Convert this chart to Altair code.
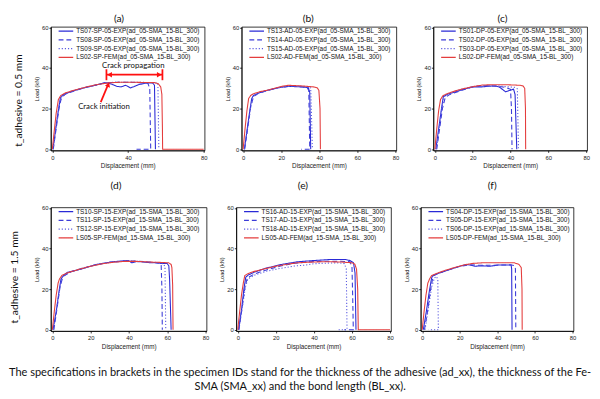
import altair as alt
import pandas as pd

# ---------------- data ----------------
X_TICKS = [0, 20, 40, 60, 80]
Y_TICKS = [0, 20, 40, 60]

# panel (a)
A_NAMES = ["TS07-SP-05-EXP(ad_05-SMA_15-BL_300)", "TS08-SP-05-EXP(ad_05-SMA_15-BL_300)",
           "TS09-SP-05-EXP(ad_05-SMA_15-BL_300)", "LS02-SP-FEM(ad_05-SMA_15-BL_300)"]
A1_D = [0.3, 1.5, 3, 4.2, 5.5, 7.6, 11, 14.3, 19.4, 22.8, 27.8, 30, 32, 34, 36.3, 38.8, 41.3, 43, 45.5, 48, 49.7, 53.1, 54, 54.5]
A1_L = [0, 8, 18, 25.2, 26.8, 27.6, 28.8, 29.6, 30.8, 31.5, 32.8, 32.5, 31.8, 31.0, 30.7, 31.5, 30.2, 30.8, 31.8, 32.3, 32.6, 32.6, 31.5, 0]
A2_D = [0.5, 2, 3.5, 4.8, 7, 12, 18, 24, 28, 34, 40, 46, 50.5, 51.5, 52, 44.5]
A2_L = [0, 10, 20, 25.5, 27.2, 28.8, 30.6, 31.8, 32.7, 33, 33, 32.8, 32.5, 30, 0, 0]
A3_D = [0.4, 2, 3.7, 5, 8, 14, 20, 27, 33, 40, 47, 53, 55.8, 56.3]
A3_L = [0, 12, 22, 26, 27.6, 29.7, 31, 32.5, 33, 33, 33, 32.8, 32.5, 0]
A4_D = [0, 1, 2, 3.2, 4.5, 7, 12, 18, 24, 30, 36, 42, 48, 54, 56, 57.3, 57.9, 58.2, 58.3, 80]
A4_L = [0, 9, 17.5, 24.5, 26.5, 27.8, 29.2, 30.7, 31.9, 32.7, 33, 33, 32.9, 32.8, 32.3, 30.7, 27, 10, 0, 0]

# panel (b)
B_NAMES = ["TS13-AD-05-EXP(ad_05-SMA_15-BL_300)", "TS14-AD-05-EXP(ad_05-SMA_15-BL_300)",
           "TS15-AD-05-EXP(ad_05-SMA_15-BL_300)", "LS02-AD-FEM(ad_05-SMA_15-BL_300)"]
B1_D = [0.7, 2, 3.5, 4.5, 5.4, 8, 12, 18.8, 23.8, 30.5, 34.2, 35, 35.5]
B1_L = [0, 9, 19, 24.9, 26.5, 27.6, 28.8, 30.4, 31.0, 30.7, 30.4, 28, 0]
B2_D = [0.8, 2.5, 4, 5.5, 8, 13, 19, 25, 30, 33.5, 34.5, 35, 30.5]
B2_L = [0, 11, 21, 26, 27.5, 29, 30.4, 31, 30.8, 30.5, 29, 0, 0]
B3_D = [0.6, 2.3, 4, 5.2, 9, 15, 22, 28, 33, 35.5, 36.4]
B3_L = [0, 10, 21, 26, 28, 29.6, 30.8, 31.2, 30.8, 30.2, 0]
B4_D = [0, 1, 2, 2.9, 4, 5.4, 9, 13.8, 20.5, 23.8, 30.5, 37.2, 39, 39.8, 40.4, 40.6]
B4_L = [0, 10, 19, 25, 26.5, 27.3, 28.4, 29.3, 31.0, 31.5, 31.2, 30.7, 30.2, 29.0, 20, 0]

# panel (c)
C_NAMES = ["TS01-DP-05-EXP(ad_05-SMA_15-BL_300)", "TS02-DP-05-EXP(ad_05-SMA_15-BL_300)",
           "TS03-DP-05-EXP(ad_05-SMA_15-BL_300)", "LS02-DP-FEM(ad_05-SMA_15-BL_300)"]
C1_D = [0.5, 2, 3.5, 4.5, 7, 11, 15, 19.7, 24.7, 28, 31.5, 34, 37.4, 39.9, 41.6, 42.4, 43.3]
C1_L = [0, 10, 20, 26, 27.2, 28.3, 29.5, 30.7, 30.7, 31, 31.2, 30.7, 28.3, 29.1, 29.6, 27, 0]
C2_D = [1, 2.5, 4, 5.5, 8, 13, 19, 24, 30, 35, 38, 40, 40.5, 40.8]
C2_L = [0, 10, 20, 25.5, 27, 28.6, 30.4, 31.3, 31.2, 30.8, 30.3, 29.5, 20, 0]
C3_D = [0.8, 2.3, 3.8, 5.2, 9, 15, 21, 27, 33, 38, 42, 43.6, 44.2]
C3_L = [0, 11, 21, 26, 28, 29.8, 31, 31.3, 31.2, 30.8, 30.5, 29.8, 0]
C4_D = [0, 1, 2, 3, 4.2, 6, 10, 15, 20, 25, 30, 35, 40, 45, 46.6, 47.5, 47.9, 48]
C4_L = [0, 10, 19, 24.5, 26.3, 27.2, 28.5, 29.8, 30.8, 31.6, 31.8, 31.8, 31.7, 31.5, 31.2, 30, 20, 0]

# panel (d)
D_NAMES = ["TS10-SP-15-EXP(ad_15-SMA_15-BL_300)", "TS11-SP-15-EXP(ad_15-SMA_15-BL_300)",
           "TS12-SP-15-EXP(ad_15-SMA_15-BL_300)", "LS05-SP-FEM(ad_15-SMA_15-BL_300)"]
D1_D = [0.3, 2, 3.5, 4.5, 6, 7.9, 14.6, 23, 31.4, 36, 39.8, 41.4, 44, 46.5, 49, 51.5, 54, 56.5, 59.9, 60.8, 61.2, 62]
D1_L = [0, 9, 19, 25, 27, 28.3, 29.8, 32.2, 33.5, 33.9, 34.1, 33, 33.6, 33.5, 33.2, 33, 33.2, 32.7, 32.7, 31.5, 25, 0]
D2_D = [0.8, 2.5, 4, 5.5, 9, 15, 22, 30, 38, 45, 52, 55.5, 56.8, 57.2, 57.4]
D2_L = [0, 11, 21, 26.2, 28.3, 30, 31.8, 33.2, 33.9, 33.8, 33.2, 32.8, 32, 20, 0]
D3_D = [0.6, 2.2, 3.8, 5.2, 9, 16, 24, 32, 40, 48, 54, 58, 58.8, 59.2]
D3_L = [0, 10, 20.5, 26, 28.3, 30.5, 32.3, 33.5, 34, 33.5, 33, 32.5, 31, 0]
D4_D = [0, 1, 2, 3, 3.7, 5, 8, 14, 20, 26, 32, 38, 44, 50, 56, 60.7, 62, 62.4, 62.8, 63]
D4_L = [0, 9, 17, 23, 25, 26.8, 28.1, 29.8, 31.3, 32.5, 33.3, 33.7, 33.7, 33.4, 33.2, 33, 32.2, 30.6, 22, 0]

# panel (e)
E_NAMES = ["TS16-AD-15-EXP(ad_15-SMA_15-BL_300)", "TS17-AD-15-EXP(ad_15-SMA_15-BL_300)",
           "TS18-AD-15-EXP(ad_15-SMA_15-BL_300)", "LS05-AD-FEM(ad_15-SMA_15-BL_300)"]
E1_D = [0.4, 2, 3.2, 4.2, 5.5, 9, 14.6, 23, 31.4, 39.8, 48.2, 56.6, 59, 60.8, 61.6, 62.1]
E1_L = [0, 10, 20, 25.9, 27, 28.5, 30.3, 32.2, 33.5, 34.1, 34.6, 34.6, 34.1, 33, 28, 0]
E2_D = [0.6, 2.3, 3.8, 5, 9, 15, 22, 30, 38, 46, 54, 59, 60, 60.4, 60.7, 56]
E2_L = [0, 11, 21, 25.5, 27.6, 29.5, 31.3, 32.8, 33.5, 33.8, 33.8, 33.5, 31, 15, 0, 0]
E3_D = [0.5, 2.2, 4, 5.3, 9, 15, 22, 29.7, 35, 39.8, 46, 53.2, 56, 57, 57.4, 53]
E3_L = [0, 10, 21, 25, 27, 28.8, 30.2, 31.4, 31.8, 32.5, 32.8, 33, 32.6, 30, 0, 0]
E4_D = [0, 1, 2, 3, 3.7, 5, 8, 14, 20, 26, 31.4, 38, 44, 48.2, 54, 60, 61.5, 62.4, 63, 63.3, 80]
E4_L = [0, 9, 17.5, 23.5, 26.7, 27.5, 28.6, 30, 31.3, 32.3, 33, 33.3, 33.5, 33.5, 33.4, 33, 32.3, 29.8, 20, 0, 0]

# panel (f)
F_NAMES = ["TS04-DP-15-EXP(ad_15-SMA_15-BL_300)", "TS05-DP-15-EXP(ad_15-SMA_15-BL_300)",
           "TS06-DP-15-EXP(ad_15-SMA_15-BL_300)", "LS05-DP-FEM(ad_15-SMA_15-BL_300)"]
F1_D = [0.6, 2.2, 3.8, 5, 5.6, 8, 11, 15, 19, 23.5, 26, 28, 32, 36, 40.5, 44, 47.3, 47.6, 47.8]
F1_L = [0, 9, 19, 25.5, 26.7, 27.6, 28.5, 29.8, 31, 32.2, 31.8, 31.3, 31.5, 31.3, 31.9, 31.9, 31.9, 30, 0]
F2_D = [1.2, 3, 4.5, 5.8, 9, 14, 20, 25, 30, 36, 42, 47, 49, 49.6, 49.8]
F2_L = [0, 10, 20, 26.5, 28, 29.6, 31.2, 32, 31.8, 31.8, 31.9, 32, 31.6, 30, 0]
F3_D = [1.5, 3.2, 5, 6.5, 7.5, 8.3, 8.6, 3.5]
F3_L = [0, 10, 21, 25.5, 26.3, 25, 0, 0]
F4_D = [0, 1, 2, 3, 3.9, 5, 8, 12, 17, 22, 26.9, 32, 40.5, 46, 49, 51.5, 52.7, 53.1, 53.2]
F4_L = [0, 9, 17, 23, 25, 26.7, 27.9, 29.2, 30.6, 31.9, 32.7, 33, 33, 33, 33, 32.2, 30.6, 20, 0]

# annotations in panel (a)
ANN_TEXT = ["Crack propagation", "Crack initiation"]
ANN_TX = [42.8, 27.3]
ANN_TY = [41.2, 20.6]
SEG_X = [28.6, 28.6, 58.2, 25.6]
SEG_X2 = [58.2, 28.6, 58.2, 29.2]
SEG_Y = [36.7, 34.0, 34.0, 23.2]
SEG_Y2 = [36.7, 39.4, 39.4, 31.2]
HEAD_X = [30.3, 56.5, 29.6]
HEAD_Y = [36.7, 36.7, 31.8]
HEAD_ANGLE = [270, 90, 22]

ROW_TITLES = ["t_adhesive = 0.5 mm", "t_adhesive = 1.5 mm"]
CAPTION = ["The specifications in brackets in the specimen IDs stand for the thickness of the adhesive (ad_xx), the thickness of the Fe-",
           "SMA (SMA_xx) and the bond length (BL_xx)."]

# ---------------- styles ----------------
COLORS = ["#2a2ad6", "#3c3cd8", "#5a5ae0", "#e43d3d"]
DASHES = [[1, 0], [5, 3], [1.2, 2], [1, 0]]
LABEL_FONT = "Liberation Sans"
TEXT_FONT = "Lato"


def panel(letter, names, series, w, h, title_offset, title_dx, annotate=False):
    rows = []
    for name, (ds, ls) in zip(names, series):
        for i, (d, l) in enumerate(zip(ds, ls)):
            rows.append({"s": name, "d": d, "L": l, "i": i})
    df = pd.DataFrame(rows)
    leg = alt.Legend(orient="none", legendX=7, legendY=0, symbolType="stroke",
                     symbolSize=225, symbolStrokeWidth=1.2, labelFontSize=6.6,
                     labelFont=LABEL_FONT, labelOffset=2, rowPadding=0, clipHeight=8.8,
                     padding=0, labelColor="#111")
    xax = alt.Axis(values=X_TICKS, title="Displacement (mm)", grid=False, labelFlush=False,
                   tickSize=2, labelPadding=2, titlePadding=3, titleFontSize=6.5,
                   labelFontSize=6)
    yax = alt.Axis(values=Y_TICKS, title="Load (kN)", grid=False, labelFlush=False,
                   tickSize=2, labelPadding=1, titlePadding=2, titleFontSize=5.8,
                   labelFontSize=6)
    x = alt.X("d:Q", scale=alt.Scale(domain=[-0.8, 80.5], nice=False, zero=False), axis=xax)
    y = alt.Y("L:Q", scale=alt.Scale(domain=[-0.6, 60.3], nice=False, zero=False), axis=yax)
    lines = alt.Chart(df).mark_line(strokeWidth=1.1).encode(
        x=x, y=y,
        color=alt.Color("s:N", title=None, scale=alt.Scale(domain=names, range=COLORS), legend=leg),
        strokeDash=alt.StrokeDash("s:N", title=None, scale=alt.Scale(domain=names, range=DASHES), legend=leg),
        order=alt.Order("i:Q"),
    )
    layers = [lines]
    if annotate:
        seg = pd.DataFrame({"x": SEG_X, "x2": SEG_X2, "y": SEG_Y, "y2": SEG_Y2})
        head = pd.DataFrame({"x": HEAD_X, "y": HEAD_Y, "a": HEAD_ANGLE})
        txt = pd.DataFrame({"x": ANN_TX, "y": ANN_TY, "t": ANN_TEXT})
        layers.append(alt.Chart(seg).mark_rule(color="#ff1010", strokeWidth=1.8).encode(
            x="x:Q", x2="x2:Q", y="y:Q", y2="y2:Q"))
        layers.append(alt.Chart(head).mark_point(shape="triangle-up", filled=True, color="#ff1010",
                                                 size=30, opacity=1).encode(
            x="x:Q", y="y:Q", angle=alt.Angle("a:Q", scale=None)))
        layers.append(alt.Chart(txt).mark_text(font=TEXT_FONT, fontSize=8, color="#111").encode(
            x="x:Q", y="y:Q", text="t:N"))
    return alt.layer(*layers).properties(
        width=w, height=h,
        title=alt.TitleParams(letter, font=TEXT_FONT, fontSize=10.5, fontWeight="normal",
                              color="#111", offset=title_offset, anchor="middle",
                              frame="group", dx=title_dx),
    )


pa = panel("(a)", A_NAMES, [(A1_D, A1_L), (A2_D, A2_L), (A3_D, A3_L), (A4_D, A4_L)], 158, 127, 0, -9, annotate=True)
pb = panel("(b)", B_NAMES, [(B1_D, B1_L), (B2_D, B2_L), (B3_D, B3_L), (B4_D, B4_L)], 159, 127, 0, -11)
pc = panel("(c)", C_NAMES, [(C1_D, C1_L), (C2_D, C2_L), (C3_D, C3_L), (C4_D, C4_L)], 158, 127, 0, -8)
pd_ = panel("(d)", D_NAMES, [(D1_D, D1_L), (D2_D, D2_L), (D3_D, D3_L), (D4_D, D4_L)], 160, 127, 14, -13)
pe = panel("(e)", E_NAMES, [(E1_D, E1_L), (E2_D, E2_L), (E3_D, E3_L), (E4_D, E4_L)], 159, 127, 14, -11)
pf = panel("(f)", F_NAMES, [(F1_D, F1_L), (F2_D, F2_L), (F3_D, F3_L), (F4_D, F4_L)], 157, 127, 14, -5)


def row_title(t, off, dx):
    return alt.TitleParams(t, orient="left", anchor="middle", font=TEXT_FONT, fontSize=10.5,
                           fontWeight="normal", color="#111", offset=off, dx=dx)


row1 = alt.hconcat(pa, pb, pc, spacing=16, title=row_title(ROW_TITLES[0], 9, -9)).resolve_scale(
    color="independent", strokeDash="independent").resolve_legend(color="independent", strokeDash="independent")
row2 = alt.hconcat(pd_, pe, pf, spacing=8.5, title=row_title(ROW_TITLES[1], 13, -12)).resolve_scale(
    color="independent", strokeDash="independent").resolve_legend(color="independent", strokeDash="independent")

chart = alt.vconcat(
    row1, row2, spacing=10.5,
    title=alt.TitleParams(CAPTION, orient="bottom", anchor="middle", font=TEXT_FONT, fontSize=11.3,
                          fontWeight="normal", color="#111", lineHeight=15, offset=17),
).resolve_scale(color="independent", strokeDash="independent").resolve_legend(
    color="independent", strokeDash="independent"
).configure_axis(
    labelFont=LABEL_FONT, titleFont=LABEL_FONT, titleFontWeight="normal", labelColor="#222",
    titleColor="#222", domainColor="black", tickColor="black", domainWidth=0.8, tickWidth=0.8,
).configure_view(stroke="black", strokeWidth=0.8).properties(
    padding={"left": 0, "top": 0, "right": 0, "bottom": 0}
)

chart.save("out.html", embed_options={"renderer": "svg", "actions": False})
